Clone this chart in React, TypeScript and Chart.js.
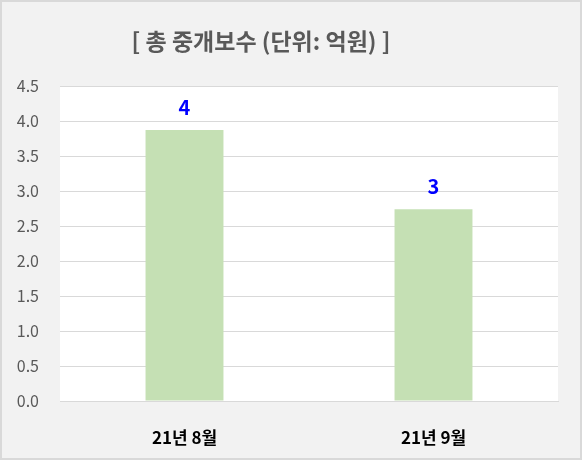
import React, { useEffect, useRef } from "react";
import { Chart, registerables } from "chart.js";

Chart.register(...registerables);

const titleText = "[ 총 중개보수 (단위: 억원) ]";
const categories = ["21년 8월", "21년 9월"];
const values = [3.87, 2.74];
const yTicks = [0, 0.5, 1, 1.5, 2, 2.5, 3, 3.5, 4, 4.5];

const FONT = "'Noto Sans CJK KR', 'Noto Sans', sans-serif";

const framePlugin = {
  id: "frame",
  beforeDraw(chart: any) {
    const { ctx, width, height, chartArea } = chart;
    ctx.save();
    ctx.fillStyle = "#f2f2f2";
    ctx.fillRect(0, 0, width, height);
    ctx.fillStyle = "#ffffff";
    ctx.fillRect(chartArea.left, chartArea.top, chartArea.right - chartArea.left, chartArea.bottom - chartArea.top);
    ctx.strokeStyle = "#d9d9d9";
    ctx.lineWidth = 2;
    ctx.strokeRect(1, 1, width - 2, height - 2);
    ctx.restore();
  },
  afterDraw(chart: any) {
    const { ctx } = chart;
    ctx.save();
    ctx.font = `bold 23px ${FONT}`;
    ctx.fillStyle = "#595959";
    ctx.textAlign = "center";
    ctx.textBaseline = "middle";
    ctx.fillText(titleText, 261, 41);
    ctx.restore();
  },
};

const labelPlugin = {
  id: "valueLabels",
  afterDatasetsDraw(chart: any) {
    const { ctx } = chart;
    const meta = chart.getDatasetMeta(0);
    ctx.save();
    ctx.font = `bold 20px ${FONT}`;
    ctx.fillStyle = "#0000ff";
    ctx.textAlign = "center";
    ctx.textBaseline = "bottom";
    meta.data.forEach((bar: any, i: number) => {
      ctx.fillText(String(Math.round(values[i])), bar.x, bar.y - 13);
    });
    ctx.restore();
  },
};

export default function App() {
  const ref = useRef<HTMLCanvasElement>(null);
  useEffect(() => {
    document.body.style.margin = "0";
    const chart = new Chart(ref.current!, {
      type: "bar",
      data: {
        labels: categories,
        datasets: [
          {
            data: values,
            backgroundColor: "#c5e0b4",
            borderWidth: 0,
            categoryPercentage: 1,
            barPercentage: 0.313,
          },
        ],
      },
      options: {
        animation: false,
        responsive: false,
        layout: { padding: { left: 0, right: 24, top: 86, bottom: 0 } },
        plugins: { legend: { display: false }, title: { display: false }, tooltip: { enabled: false } },
        scales: {
          x: {
            grid: { display: false },
            border: { display: true, color: "#d9d9d9", width: 1 },
            ticks: { color: "#000000", font: { family: FONT, size: 17, weight: "bold" }, padding: 18 },
            afterFit(scale: any) {
              scale.height = 59;
            },
          },
          y: {
            min: 0,
            max: 4.5,
            afterBuildTicks(scale: any) {
              scale.ticks = yTicks.map((v) => ({ value: v }));
            },
            grid: { color: "#d9d9d9", lineWidth: 1, drawTicks: false },
            border: { display: false },
            ticks: {
              color: "#595959",
              font: { family: FONT, size: 16 },
              padding: 21,
              callback: (v: any) => Number(v).toFixed(1),
            },
            afterFit(scale: any) {
              scale.width = 60;
            },
          },
        },
      },
      plugins: [framePlugin, labelPlugin],
    });
    return () => chart.destroy();
  }, []);
  return <canvas ref={ref} width={582} height={460} style={{ display: "block" }} />;
}
